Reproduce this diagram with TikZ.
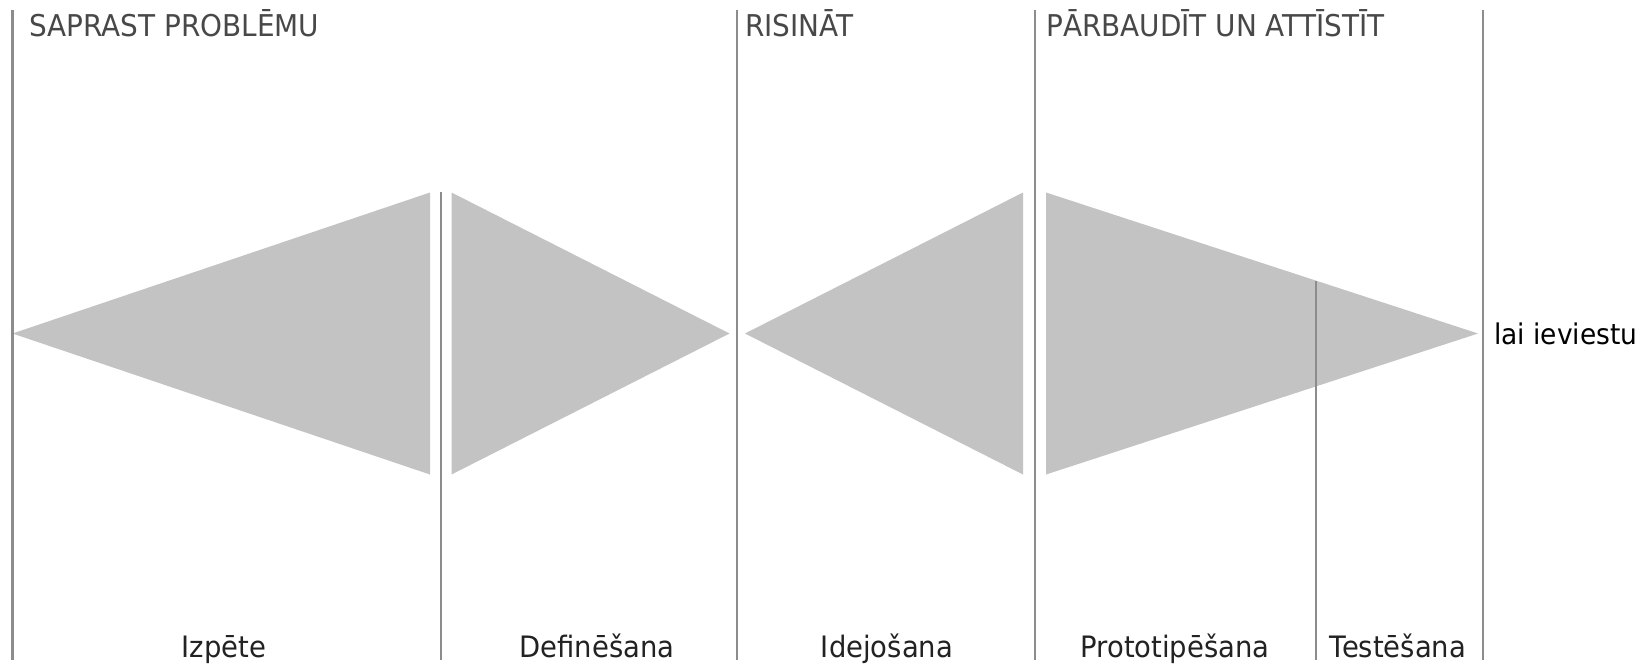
\documentclass[tikz,border=0pt]{standalone}
\usepackage{fontspec}
\usepackage{graphicx}
\setmainfont{DejaVu Sans}
\newcommand{\sqz}[1]{\scalebox{0.93}[1]{#1}}
\definecolor{trifill}{RGB}{196,195,195}
\definecolor{rulegray}{RGB}{140,140,140}
\definecolor{headgray}{RGB}{72,72,72}
\definecolor{labgray}{RGB}{34,34,34}
\tikzset{
  txt/.style={inner sep=0pt, font=\fontsize{28.5}{34}\selectfont},
  head/.style={inner sep=0pt, font=\fontsize{30}{36}\selectfont, text=headgray, anchor=base west},
  lab/.style={inner sep=0pt, font=\fontsize{29.5}{35}\selectfont, text=labgray, anchor=base},
  divider/.style={draw=rulegray, line width=2.2pt},
  funnel/.style={fill=trifill, draw=none}
}
\begin{document}
\begin{tikzpicture}[x=1pt,y=-1pt]
\useasboundingbox[fill=white] (0,0) rectangle (1644,665);
% triangles
\fill[funnel] (12.5,333.5) -- (430,192.5) -- (430,474.5) -- cycle;
\fill[funnel] (451.5,192.5) -- (451.5,474.5) -- (729.5,333.5) -- cycle;
\fill[funnel] (745,333.5) -- (1023,192.5) -- (1023,474.5) -- cycle;
\fill[funnel] (1046,192.5) -- (1046,474.5) -- (1478,333.5) -- cycle;
% divider end points
\coordinate (l1t) at (12.5,10);   \coordinate (l1b) at (12.5,660);
\coordinate (l2t) at (441,192);   \coordinate (l2b) at (441,660);
\coordinate (l3t) at (737,10);    \coordinate (l3b) at (737,660);
\coordinate (l4t) at (1035,10);   \coordinate (l4b) at (1035,660);
\coordinate (l5t) at (1316,281);  \coordinate (l5b) at (1316,660);
\coordinate (l6t) at (1483,10);   \coordinate (l6b) at (1483,660);
\draw[divider] (l1t) -- (l1b);
\draw[divider] (l2t) -- (l2b);
\draw[divider] (l3t) -- (l3b);
\draw[divider] (l4t) -- (l4b);
\draw[divider] (l5t) -- (l5b);
\draw[divider] (l6t) -- (l6b);
% headers
\node[head] (h1) at (29,36) {\sqz{SAPRAST PROBLĒMU}};
\node[head] (h2) at (745,36) {\sqz{RISINĀT}};
\node[head] (h3) at (1046,36) {\sqz{PĀRBAUDĪT UN ATTĪSTĪT}};
% bottom labels
\node[lab] (b1) at (224,657) {\sqz{Izpēte}};
\node[lab] (b2) at (597,657) {\sqz{Definēšana}};
\node[lab] (b3) at (887,657) {\sqz{Idejošana}};
\node[lab] (b4) at (1175,657) {\sqz{Prototipēšana}};
\node[lab] (b5) at (1398,657) {\sqz{Testēšana}};
% outcome
\node[txt, text=black, anchor=base west] (out) at (1494,344) {\sqz{lai ieviestu}};
\end{tikzpicture}
\end{document}
